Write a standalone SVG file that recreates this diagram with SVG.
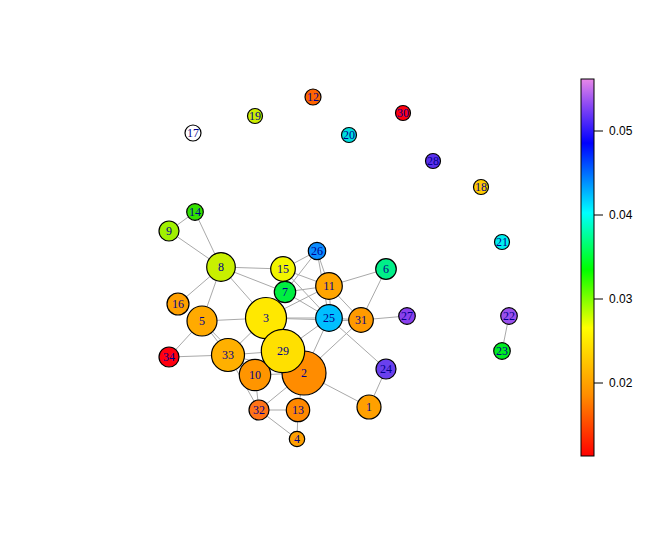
<svg xmlns="http://www.w3.org/2000/svg" width="650" height="550" viewBox="0 0 650 550">
<style>
.e{stroke:#A9A9A9;stroke-width:1;fill:none}
.n circle{stroke:#000;stroke-width:1.2}
.n text{font-family:"Liberation Serif",serif;font-size:12px;fill:#00008B;text-anchor:middle;dominant-baseline:central}
.t{font-family:"Liberation Sans",Arial,sans-serif;font-size:12px;fill:#000;dominant-baseline:central}
</style>
<defs>
<linearGradient id="cb" x1="0" y1="0" x2="0" y2="1">
<stop offset="0" stop-color="#E888E8"/>
<stop offset="0.07" stop-color="#8A48F4"/>
<stop offset="0.17" stop-color="#0000FF"/>
<stop offset="0.355" stop-color="#00FFFF"/>
<stop offset="0.505" stop-color="#00FF00"/>
<stop offset="0.66" stop-color="#FFFF00"/>
<stop offset="0.84" stop-color="#FF8C00"/>
<stop offset="1" stop-color="#FF0000"/>
</linearGradient>
</defs>
<rect width="650" height="550" fill="#fff"/>
<g id="edges">
<line class="e" x1="169" y1="231" x2="195" y2="212"/>
<line class="e" x1="169" y1="231" x2="221" y2="267"/>
<line class="e" x1="195" y1="212" x2="221" y2="267"/>
<line class="e" x1="221" y1="267" x2="283" y2="269"/>
<line class="e" x1="221" y1="267" x2="285" y2="292"/>
<line class="e" x1="221" y1="267" x2="266" y2="318"/>
<line class="e" x1="221" y1="267" x2="178" y2="304"/>
<line class="e" x1="221" y1="267" x2="202" y2="321"/>
<line class="e" x1="283" y1="269" x2="317" y2="251"/>
<line class="e" x1="283" y1="269" x2="329" y2="286"/>
<line class="e" x1="283" y1="269" x2="329" y2="318"/>
<line class="e" x1="285" y1="292" x2="317" y2="251"/>
<line class="e" x1="285" y1="292" x2="329" y2="286"/>
<line class="e" x1="285" y1="292" x2="329" y2="318"/>
<line class="e" x1="317" y1="251" x2="329" y2="286"/>
<line class="e" x1="317" y1="251" x2="329" y2="318"/>
<line class="e" x1="266" y1="318" x2="329" y2="286"/>
<line class="e" x1="266" y1="318" x2="329" y2="318"/>
<line class="e" x1="266" y1="318" x2="285" y2="292"/>
<line class="e" x1="266" y1="318" x2="361" y2="321"/>
<line class="e" x1="329" y1="286" x2="386" y2="269"/>
<line class="e" x1="329" y1="286" x2="331" y2="318"/>
<line class="e" x1="329" y1="286" x2="361" y2="320"/>
<line class="e" x1="386" y1="269" x2="361" y2="320"/>
<line class="e" x1="361" y1="320" x2="407" y2="316"/>
<line class="e" x1="329" y1="318" x2="361" y2="320"/>
<line class="e" x1="283" y1="351" x2="329" y2="318"/>
<line class="e" x1="329" y1="318" x2="304" y2="373"/>
<line class="e" x1="361" y1="320" x2="304" y2="373"/>
<line class="e" x1="329" y1="318" x2="386" y2="369"/>
<line class="e" x1="304" y1="373" x2="369" y2="407"/>
<line class="e" x1="386" y1="369" x2="369" y2="407"/>
<line class="e" x1="202" y1="321" x2="266" y2="318"/>
<line class="e" x1="202" y1="321" x2="169" y2="357"/>
<line class="e" x1="202" y1="321" x2="228" y2="355"/>
<line class="e" x1="202" y1="321" x2="255" y2="375"/>
<line class="e" x1="169" y1="357" x2="228" y2="355"/>
<line class="e" x1="228" y1="355" x2="266" y2="318"/>
<line class="e" x1="228" y1="355" x2="283" y2="351"/>
<line class="e" x1="228" y1="355" x2="304" y2="373"/>
<line class="e" x1="228" y1="355" x2="255" y2="375"/>
<line class="e" x1="255" y1="375" x2="259" y2="410"/>
<line class="e" x1="228" y1="355" x2="259" y2="410"/>
<line class="e" x1="259" y1="410" x2="304" y2="373"/>
<line class="e" x1="259" y1="410" x2="298" y2="410"/>
<line class="e" x1="259" y1="410" x2="297" y2="439"/>
<line class="e" x1="298" y1="410" x2="297" y2="439"/>
<line class="e" x1="255" y1="375" x2="304" y2="373"/>
<line class="e" x1="304" y1="373" x2="298" y2="410"/>
<line class="e" x1="509" y1="316" x2="502" y2="351"/>
</g>
<g id="n17" class="n"><circle cx="193" cy="133" r="8" fill="#FFFFFF"/><text x="193" y="133">17</text></g>
<g id="n19" class="n"><circle cx="255" cy="116" r="7.5" fill="#CCEE00"/><text x="255" y="116">19</text></g>
<g id="n12" class="n"><circle cx="313" cy="97" r="8" fill="#FF6400"/><text x="313" y="97">12</text></g>
<g id="n20" class="n"><circle cx="349" cy="135" r="7.5" fill="#00DEDE"/><text x="349" y="135">20</text></g>
<g id="n30" class="n"><circle cx="403" cy="113" r="7.5" fill="#FF0010"/><text x="403" y="113">30</text></g>
<g id="n28" class="n"><circle cx="433" cy="161" r="7.5" fill="#5A30EE"/><text x="433" y="161">28</text></g>
<g id="n18" class="n"><circle cx="481" cy="187" r="7.5" fill="#FFCC00"/><text x="481" y="187">18</text></g>
<g id="n21" class="n"><circle cx="502" cy="242" r="7.5" fill="#00EEEE"/><text x="502" y="242">21</text></g>
<g id="n22" class="n"><circle cx="509" cy="316" r="8.3" fill="#9A50EE"/><text x="509" y="316">22</text></g>
<g id="n23" class="n"><circle cx="502" cy="351" r="8.3" fill="#00EE20"/><text x="502" y="351">23</text></g>
<g id="n27" class="n"><circle cx="407" cy="316" r="8.3" fill="#8A40EE"/><text x="407" y="316">27</text></g>
<g id="n14" class="n"><circle cx="195" cy="212" r="8.3" fill="#33E000"/><text x="195" y="212">14</text></g>
<g id="n9" class="n"><circle cx="169" cy="231" r="10" fill="#A0F000"/><text x="169" y="231">9</text></g>
<g id="n8" class="n"><circle cx="221" cy="267" r="14.3" fill="#C8F000"/><text x="221" y="267">8</text></g>
<g id="n16" class="n"><circle cx="178" cy="304" r="11" fill="#FFA000"/><text x="178" y="304">16</text></g>
<g id="n5" class="n"><circle cx="202" cy="321" r="15" fill="#FFAA00"/><text x="202" y="321">5</text></g>
<g id="n34" class="n"><circle cx="169" cy="357" r="10" fill="#FF0010"/><text x="169" y="357">34</text></g>
<g id="n26" class="n"><circle cx="317" cy="251" r="8.7" fill="#0A8CFF"/><text x="317" y="251">26</text></g>
<g id="n15" class="n"><circle cx="283" cy="269" r="12.3" fill="#F2F500"/><text x="283" y="269">15</text></g>
<g id="n11" class="n"><circle cx="329" cy="286" r="13.3" fill="#FFA500"/><text x="329" y="286">11</text></g>
<g id="n6" class="n"><circle cx="386" cy="269" r="10.3" fill="#00EE88"/><text x="386" y="269">6</text></g>
<g id="n7" class="n"><circle cx="285" cy="292" r="10.7" fill="#00EE40"/><text x="285" y="292">7</text></g>
<g id="n3" class="n"><circle cx="266" cy="318" r="20.5" fill="#FFE800"/><text x="266" y="318">3</text></g>
<g id="n25" class="n"><circle cx="329" cy="318" r="13.3" fill="#00BFFF"/><text x="329" y="318">25</text></g>
<g id="n31" class="n"><circle cx="361" cy="320" r="12.3" fill="#FF9A00"/><text x="361" y="320">31</text></g>
<g id="n24" class="n"><circle cx="386" cy="369" r="10" fill="#6A40EE"/><text x="386" y="369">24</text></g>
<g id="n1" class="n"><circle cx="369" cy="407" r="12" fill="#FFA000"/><text x="369" y="407">1</text></g>
<g id="n33" class="n"><circle cx="228" cy="355" r="16.5" fill="#FFB000"/><text x="228" y="355">33</text></g>
<g id="n10" class="n"><circle cx="255" cy="375" r="15.7" fill="#FF9500"/><text x="255" y="375">10</text></g>
<g id="n2" class="n"><circle cx="304" cy="373" r="22" fill="#FF8C00"/><text x="304" y="373">2</text></g>
<g id="n29" class="n"><circle cx="283" cy="351" r="21.7" fill="#FFE000"/><text x="283" y="351">29</text></g>
<g id="n32" class="n"><circle cx="259" cy="410" r="10" fill="#FF7318"/><text x="259" y="410">32</text></g>
<g id="n13" class="n"><circle cx="298" cy="410" r="11.7" fill="#FF8800"/><text x="298" y="410">13</text></g>
<g id="n4" class="n"><circle cx="297" cy="439" r="7.7" fill="#FFA000"/><text x="297" y="439">4</text></g>
<g id="colorbar">
<rect x="581" y="79" width="13" height="377" fill="url(#cb)" stroke="#000" stroke-width="1"/>
<line x1="594" y1="131" x2="603" y2="131" stroke="#000"/>
<line x1="594" y1="215" x2="603" y2="215" stroke="#000"/>
<line x1="594" y1="299" x2="603" y2="299" stroke="#000"/>
<line x1="594" y1="383" x2="603" y2="383" stroke="#000"/>
<text class="t" x="609" y="131">0.05</text>
<text class="t" x="609" y="215">0.04</text>
<text class="t" x="609" y="299">0.03</text>
<text class="t" x="609" y="383">0.02</text>
</g>
</svg>
